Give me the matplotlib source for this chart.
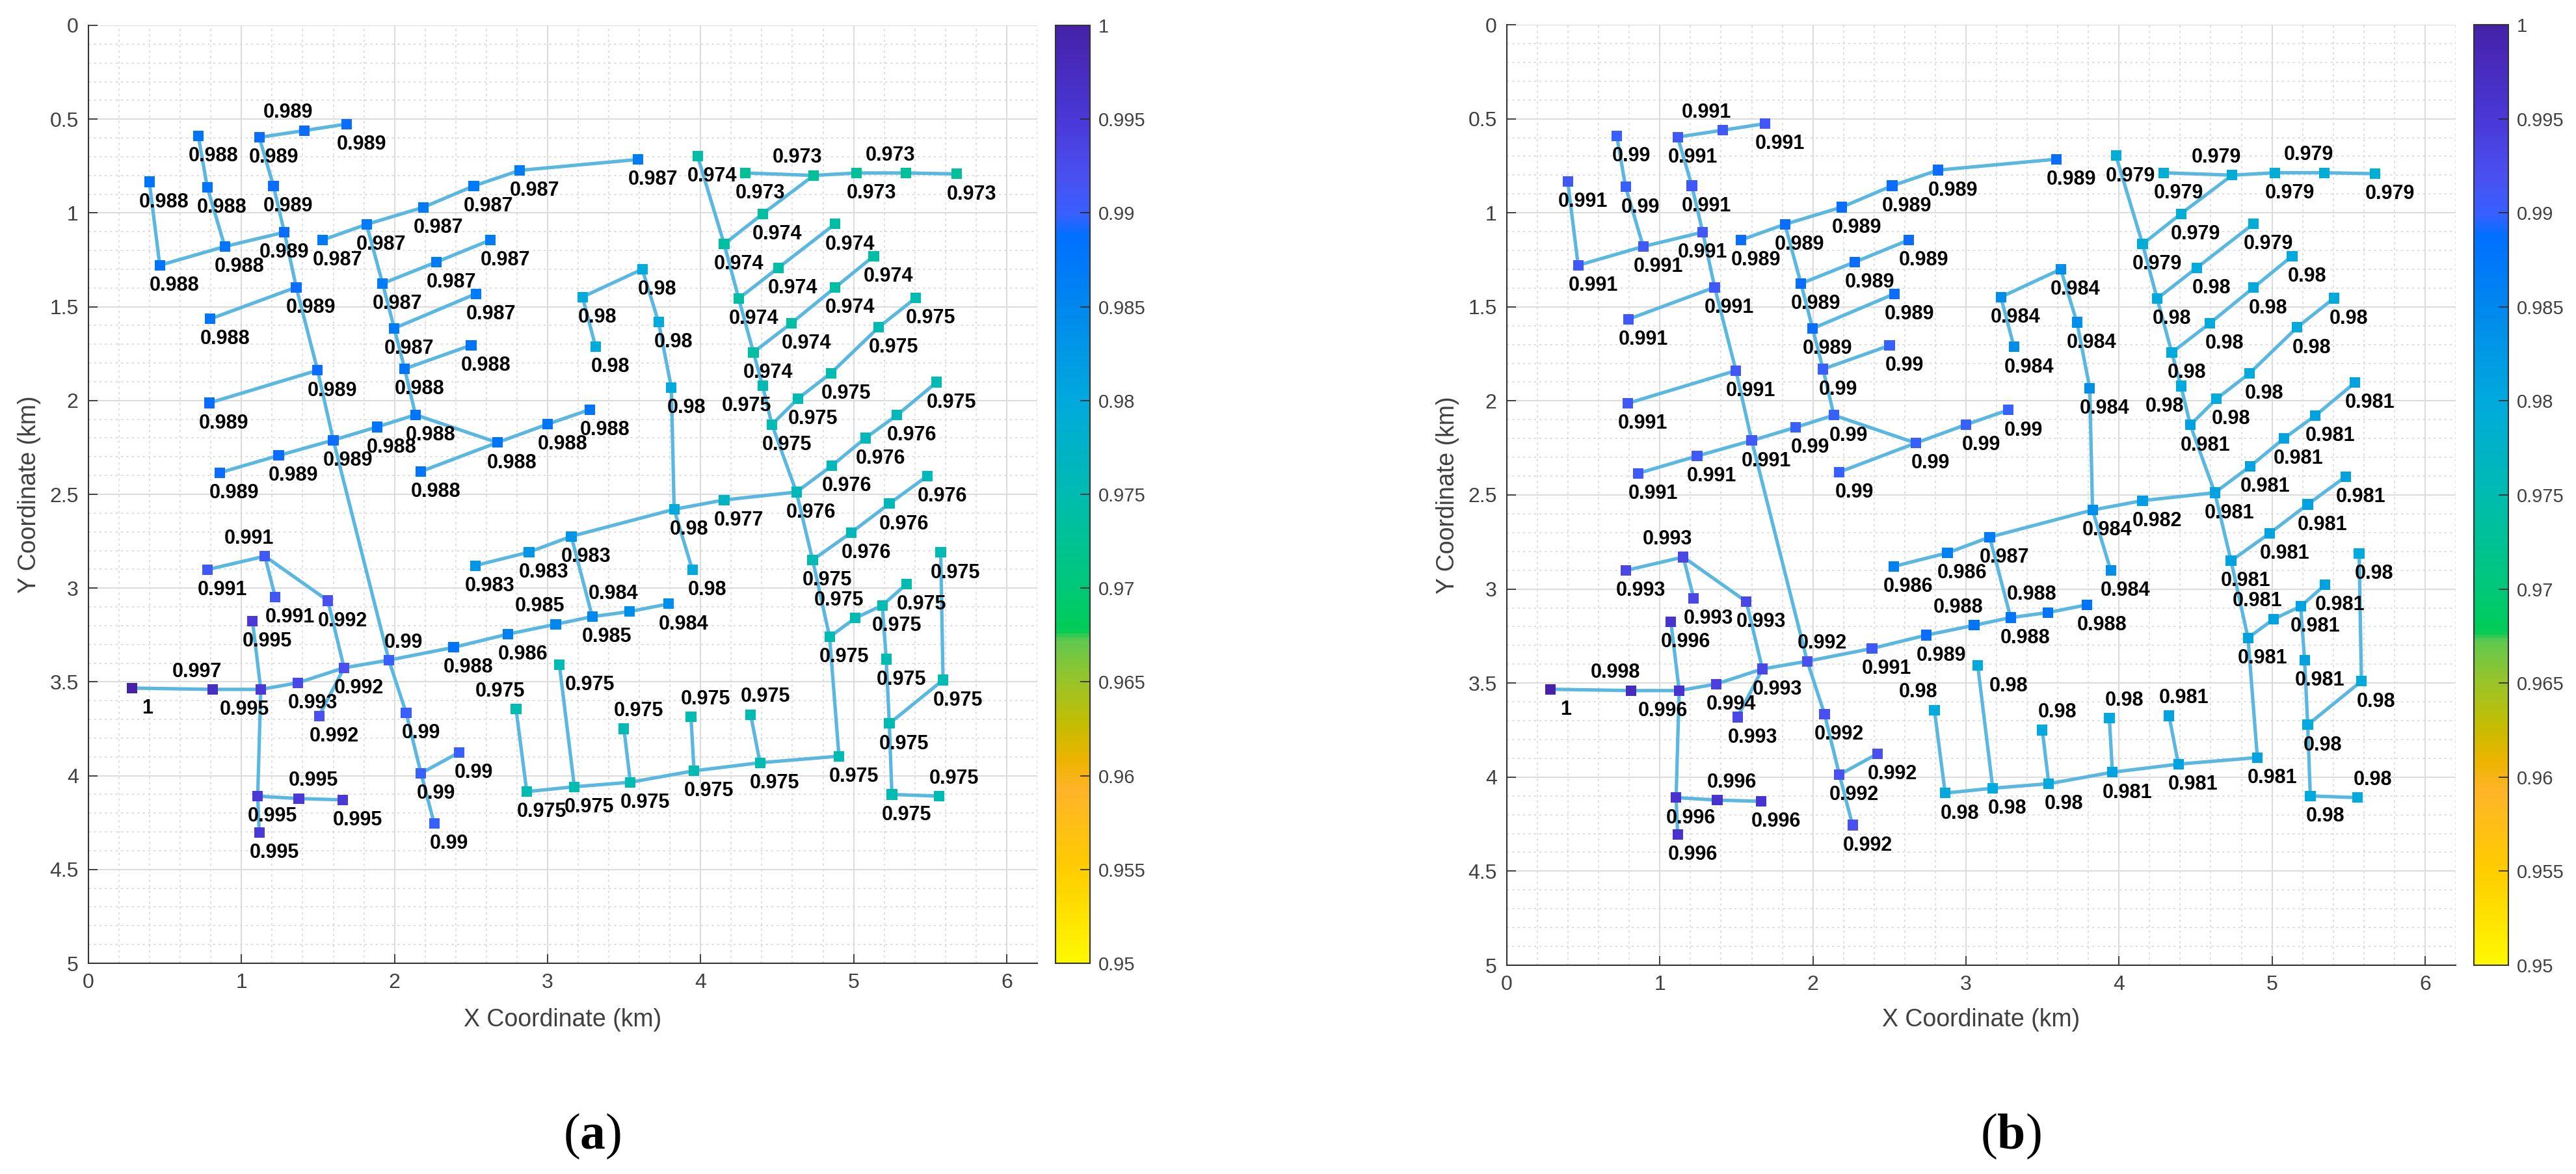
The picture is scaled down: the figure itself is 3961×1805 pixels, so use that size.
import numpy as np
import matplotlib
matplotlib.use("Agg")
import matplotlib.pyplot as plt
from matplotlib.cm import ScalarMappable
from matplotlib.colors import LinearSegmentedColormap, Normalize
from matplotlib.ticker import MultipleLocator, FormatStrFormatter

plt.rcParams['font.family'] = ['Liberation Sans', 'DejaVu Sans']
plt.rcParams['mathtext.fontset'] = 'custom'
plt.rcParams['mathtext.bf'] = 'Liberation Serif:bold'
plt.rcParams['mathtext.rm'] = 'Liberation Serif'

# node coordinates in km
node_x = [0.398, 0.466, 0.891, 1.280, 0.718, 0.776, 1.116, 1.209, 1.409, 1.687,
          1.358, 0.796, 1.497, 0.789, 1.600, 1.243, 0.857, 1.885, 2.137, 2.672,
          2.173, 3.001, 3.277, 2.066, 2.501, 1.998, 2.532, 1.922, 2.273, 2.628,
          1.817, 1.531, 2.188, 2.518, 2.818, 3.590, 3.228, 3.314, 3.619, 3.725,
          3.809, 3.827, 3.946, 4.154, 4.626, 3.980, 4.154, 4.249, 4.345, 4.405,
          4.466, 4.293, 4.739, 5.018, 5.343, 5.673, 4.405, 4.507, 4.878, 4.594,
          4.878, 5.131, 4.637, 4.852, 5.164, 5.404, 4.858, 5.077, 5.283, 5.543,
          4.732, 4.984, 5.233, 5.482, 4.843, 5.010, 5.187, 5.346, 5.213, 5.233,
          5.584, 5.569, 5.250, 5.560, 4.904, 4.388, 3.957, 3.541, 4.327, 3.937,
          3.499, 2.864, 3.175, 2.794, 3.077, 0.286, 0.813, 1.126, 1.368, 1.670,
          1.963, 2.386, 2.742, 3.053, 3.292, 3.536, 3.792, 3.155, 2.879, 2.527,
          1.153, 0.779, 1.221, 1.565, 1.072, 1.507, 2.076, 2.173, 2.422, 2.259,
          1.106, 1.375, 1.661, 1.116]
node_y = [0.834, 1.279, 1.179, 1.103, 0.590, 0.862, 0.597, 0.856, 0.561, 0.526,
          1.396, 1.565, 1.839, 2.013, 2.211, 2.293, 2.385, 2.141, 2.076, 2.224,
          2.378, 2.126, 2.048, 1.831, 1.705, 1.615, 1.431, 1.376, 1.262, 1.144,
          1.061, 1.144, 0.970, 0.856, 0.773, 0.715, 1.448, 1.713, 1.300, 1.582,
          1.932, 2.580, 2.902, 2.530, 2.488, 0.696, 1.166, 1.456, 1.743, 1.921,
          2.128, 0.787, 0.800, 0.787, 0.787, 0.792, 1.005, 1.293, 1.059, 1.587,
          1.398, 1.230, 1.989, 1.854, 1.609, 1.454, 2.347, 2.200, 2.078, 1.902,
          2.850, 2.704, 2.550, 2.402, 3.260, 3.160, 3.092, 2.978, 3.379, 3.722,
          3.490, 2.810, 4.100, 4.109, 3.896, 3.931, 3.974, 4.035, 3.674, 3.687,
          3.750, 4.085, 4.059, 3.644, 3.407, 3.533, 3.540, 3.540, 3.505, 3.425,
          3.384, 3.316, 3.245, 3.193, 3.152, 3.125, 3.084, 2.724, 2.808, 2.880,
          2.830, 2.901, 3.049, 3.067, 3.175, 3.681, 3.666, 3.987, 3.876, 4.255,
          4.109, 4.122, 4.129, 4.304]

# values at each node, left panel
values_a = [.988, .988, .988, .989, .988, .988, .989, .989, .989, .989,
            .989, .988, .989, .989, .989, .989, .989, .988, .988, .988,
            .988, .988, .988, .988, .988, .987, .987, .987, .987, .987,
            .987, .987, .987, .987, .987, .987, .98, .98, .98, .98,
            .98, .98, .98, .977, .976, .974, .974, .974, .974, .975,
            .975, .973, .973, .973, .973, .973, .974, .974, .974, .974,
            .974, .974, .975, .975, .975, .975, .976, .976, .976, .975,
            .975, .976, .976, .976, .975, .975, .975, .975, .975, .975,
            .975, .975, .975, .975, .975, .975, .975, .975, .975, .975,
            .975, .975, .975, .975, .975, 1, .997, .995, .993, .992,
            .99, .988, .986, .985, .985, .984, .984, .983, .983, .983,
            .991, .991, .991, .992, .995, .992, .99, .99, .99, .99,
            .995, .995, .995, .995]
# values at each node, right panel
values_b = [.991, .991, .991, .991, .99, .99, .991, .991, .991, .991,
            .991, .991, .991, .991, .991, .991, .991, .99, .99, .99,
            .99, .99, .99, .99, .99, .989, .989, .989, .989, .989,
            .989, .989, .989, .989, .989, .989, .984, .984, .984, .984,
            .984, .984, .984, .982, .981, .979, .979, .98, .98, .98,
            .981, .979, .979, .979, .979, .979, .979, .98, .979, .98,
            .98, .98, .98, .98, .98, .98, .981, .981, .981, .981,
            .981, .981, .981, .981, .981, .981, .981, .981, .981, .98,
            .98, .98, .98, .98, .981, .981, .981, .98, .981, .98,
            .98, .98, .98, .98, .98, 1, .998, .996, .994, .993,
            .992, .991, .989, .988, .988, .988, .988, .987, .986, .986,
            .993, .993, .993, .993, .996, .993, .992, .992, .992, .992,
            .996, .996, .996, .996]

# pipe branches as node index chains
branches = [
    [0, 1, 2, 3], [4, 5, 2], [6, 7, 3, 10, 12, 14, 100], [6, 8, 9], [11, 10], [13, 12],
    [16, 15, 14, 17, 18, 19, 21, 22], [20, 19], [18, 23, 25, 27, 30, 32, 33, 34, 35],
    [31, 30], [29, 28, 27], [26, 25], [24, 23],
    [37, 36, 38, 39, 40, 41, 42], [104, 107, 41, 43, 44], [109, 108, 107],
    [45, 46, 47, 48, 49, 50, 44, 70, 74, 84], [51, 52, 53, 54, 55], [46, 56, 52],
    [47, 57, 58], [48, 59, 60, 61], [50, 62, 63, 64, 65], [44, 66, 67, 68, 69],
    [70, 71, 72, 73], [74, 75, 76, 77], [76, 78, 79, 82, 83], [79, 80, 81],
    [91, 92, 87, 86, 85, 84], [93, 91], [94, 92], [90, 87], [89, 86], [88, 85],
    [95, 96, 97, 98, 99, 100, 101, 102, 103, 104, 105, 106],
    [111, 110, 112], [110, 113, 99], [115, 99], [114, 97, 120], [120, 121, 122], [120, 123],
    [100, 116, 117, 119], [117, 118],
]

y_ticks = [0, 0.5, 1, 1.5, 2, 2.5, 3, 3.5, 4, 4.5, 5]
x_ticks = [0, 1, 2, 3, 4, 5, 6]
cbar_ticks = [0.95, 0.955, 0.96, 0.965, 0.97, 0.975, 0.98, 0.985, 0.99, 0.995, 1]
cmap_stops = [(0.95, '#fff800'), (0.955, '#ffcc00'), (0.9592, '#ffb428'), (0.9607, '#eeb400'),
              (0.9625, '#c8bc00'), (0.965, '#98c428'), (0.9672, '#60c850'), (0.9677, '#00cc55'),
              (0.97, '#00c878'), (0.975, '#00bbb0'), (0.98, '#00aadd'), (0.985, '#0088ee'),
              (0.9888, '#0070ff'), (0.99, '#3860ff'), (0.992, '#4a50f0'), (0.995, '#4a38d8'),
              (1.0, '#4522a8')]

W, H = 3962, 1805
cmap = LinearSegmentedColormap.from_list(
    'pressure', [(round((v - 0.95) / 0.05, 6), c) for v, c in cmap_stops], N=256)
norm = Normalize(0.95, 1)

# label offset from its node, km
label_offset = {'br': (0.097, 0.108), 'bc': (0.0, 0.108), 'bl': (-0.105, 0.108),
                'al': (-0.105, -0.095), 'ar': (0.097, -0.095), 'fr': (0.2, 0.108)}
label_side = {3: 'bc', 8: 'al', 49: 'bl', 52: 'al', 54: 'al', 75: 'al', 83: 'ar',
              88: 'ar', 89: 'ar', 90: 'ar', 93: 'al', 94: 'fr', 96: 'al', 97: 'bl',
              100: 'ar', 103: 'al', 105: 'al', 110: 'al', 121: 'ar'}


def px_rect(left, right, top, bottom):
    return [left / W, 1 - bottom / H, (right - left) / W, (bottom - top) / H]


def draw_panel(fig, values, left, right, top, bottom, cb_left, tag, tag_x):
    ax = fig.add_axes(px_rect(left, right, top, bottom))
    for chain in branches:
        ax.plot([node_x[i] for i in chain], [node_y[i] for i in chain],
                color='#5ab8e0', lw=3.8, solid_capstyle='round', zorder=2)
    ax.scatter(node_x, node_y, c=values, cmap=cmap, norm=norm, marker='s', s=135,
               linewidths=0, zorder=3)
    for i, v in enumerate(values):
        dx, dy = label_offset[label_side.get(i, 'br')]
        ax.text(node_x[i] + dx, node_y[i] + dy, f"{v:g}", ha='center', va='center',
                fontsize=22, fontweight='bold', color='black', zorder=4)

    ax.set_xlim(0, 6.2)
    ax.set_ylim(5, 0)
    ax.set_xticks(x_ticks)
    ax.set_yticks(y_ticks)
    ax.yaxis.set_major_formatter(FormatStrFormatter('%g'))
    ax.xaxis.set_minor_locator(MultipleLocator(0.2))
    ax.yaxis.set_minor_locator(MultipleLocator(0.1))
    ax.set_axisbelow(True)
    ax.grid(which='major', color='#dcdcdc', lw=1.5)
    ax.grid(which='minor', color='#d8d8d8', lw=1.2, ls=(0, (2, 3)))
    ax.tick_params(which='major', direction='in', length=10, width=1.2, color='#262626',
                   labelcolor='#404040', labelsize=23, pad=11)
    ax.tick_params(which='minor', length=0)
    ax.spines['top'].set_visible(False)
    ax.spines['right'].set_visible(False)
    for side in ['left', 'bottom']:
        ax.spines[side].set_color('#333333')
        ax.spines[side].set_linewidth(1.5)
    ax.set_xlabel('X Coordinate (km)', fontsize=27, color='#404040')
    ax.xaxis.set_label_coords(0.5, -(1568 - bottom) / (bottom - top), transform=ax.transAxes)
    ax.xaxis.label.set_va('center')
    ax.set_ylabel('Y Coordinate (km)', fontsize=27, color='#404040')
    ax.yaxis.set_label_coords(-91 / (right - left), 0.5, transform=ax.transAxes)
    ax.yaxis.label.set_va('center')

    cax = fig.add_axes(px_rect(cb_left, cb_left + 53, top, bottom))
    cb = fig.colorbar(ScalarMappable(norm=norm, cmap=cmap), cax=cax, ticks=cbar_ticks)
    cb.ax.yaxis.set_major_formatter(FormatStrFormatter('%g'))
    cb.ax.tick_params(direction='in', length=10.5, width=1.2, color='#262626',
                      labelcolor='#404040', labelsize=21, pad=9)
    cb.outline.set_edgecolor('#333333')
    cb.outline.set_linewidth(1.5)

    fig.text(tag_x / W, 1 - 1747 / H, '($\\mathbf{' + tag + '}$)', family='Liberation Serif',
             fontsize=56, ha='center', va='center', color='black')


fig = plt.figure(figsize=(W / 100, H / 100), dpi=100, facecolor='white')
draw_panel(fig, values_a, 136, 1595, 39, 1481, 1623, 'a', 911)
draw_panel(fig, values_b, 2317, 3776, 38, 1484, 3804, 'b', 3092)
fig.savefig('out.png', dpi=100)
